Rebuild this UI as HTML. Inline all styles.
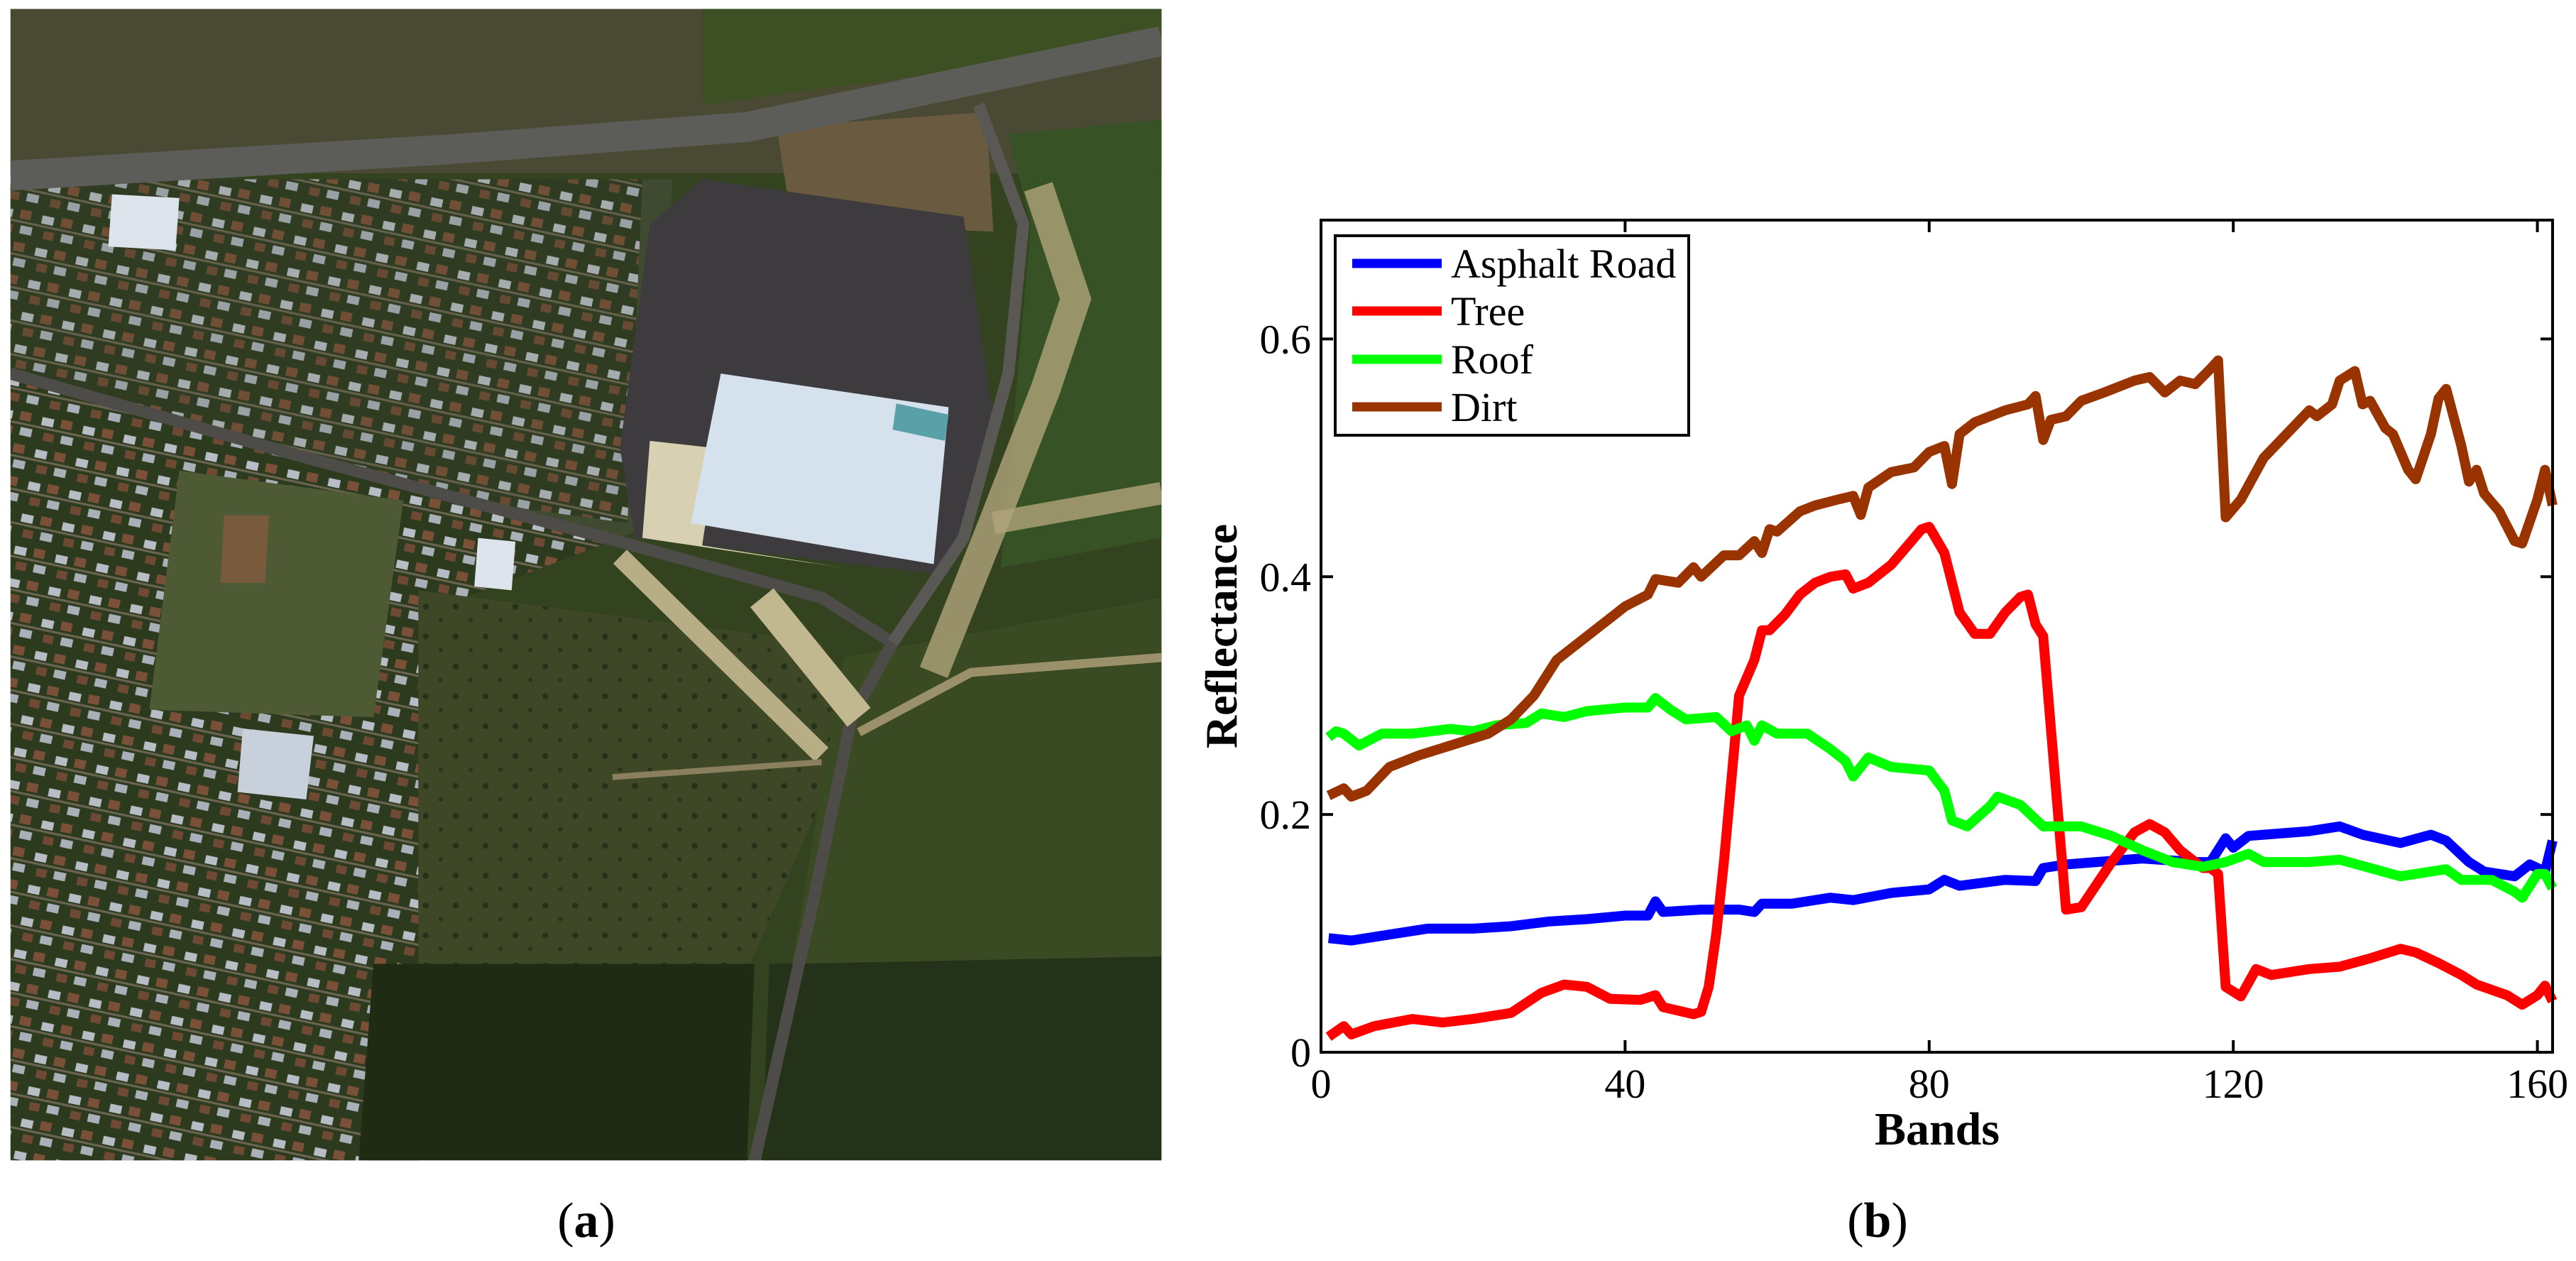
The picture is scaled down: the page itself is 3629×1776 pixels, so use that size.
<!DOCTYPE html>
<html><head><meta charset="utf-8"><style>
html,body{margin:0;padding:0;background:#fff;}
svg{display:block;font-family:"Liberation Serif",serif;}
</style></head><body>
<svg id="fig" width="3629" height="1776" viewBox="0 0 3629 1776" xmlns="http://www.w3.org/2000/svg">
<defs>
<clipPath id="mapclip"><rect x="14" y="12" width="1541" height="1541"/></clipPath>
<pattern id="houses" width="56" height="44" patternUnits="userSpaceOnUse" patternTransform="rotate(12)">
<rect width="56" height="44" fill="#2c3a1e"/>
<rect x="4" y="6" width="16" height="11" fill="#b8bcc4"/>
<rect x="30" y="4" width="15" height="12" fill="#7a5038"/>
<rect x="10" y="26" width="14" height="11" fill="#6e4a34"/>
<rect x="34" y="25" width="16" height="11" fill="#aab0b8"/>
<rect x="0" y="19" width="56" height="3" fill="#6a6450"/>
</pattern>
<pattern id="field" width="40" height="40" patternUnits="userSpaceOnUse">
<rect width="40" height="40" fill="#3e4826"/>
<circle cx="10" cy="12" r="4" fill="#26311a"/>
<circle cx="30" cy="30" r="3" fill="#2a3519"/>
</pattern>
</defs>

<!-- (a) satellite image approximation -->
<g transform="scale(1.0523)">
<g clip-path="url(#mapclip)">
<rect x="14" y="12" width="1541" height="1541" fill="#33421f"/>
<rect x="14" y="12" width="1541" height="220" fill="#4a4a34"/>
<polygon points="940,12 1555,12 1555,60 940,140" fill="#3c5024"/>
<polygon points="14,240 900,240 880,700 830,720 14,500" fill="#3f4a30"/>
<polygon points="14,500 830,720 620,800 560,1555 14,1555" fill="url(#houses)"/>
<polygon points="14,240 860,240 840,700 550,660 14,500" fill="url(#houses)" opacity="0.85"/>
<polygon points="240,630 540,670 500,960 200,950" fill="#4e5a34"/>
<polygon points="560,790 1100,860 1130,1000 1000,1300 560,1300" fill="url(#field)"/>
<polygon points="500,1290 1010,1290 1000,1555 480,1555" fill="#1f2b13"/>
<polygon points="1030,1290 1555,1280 1555,1555 1020,1555" fill="#24321a"/>
<polygon points="1130,880 1555,800 1555,1280 1060,1290" fill="#3a4a22"/>
<polygon points="1350,180 1555,160 1555,720 1340,760 1380,300" fill="#375224"/>
<polygon points="1040,170 1320,150 1330,310 1060,300" fill="#6a5a40"/>
<polygon points="940,240 1290,290 1330,560 1270,770 850,720 830,600 870,300" fill="#3e3b3f"/>
<polygon points="870,590 960,600 940,730 1130,760 860,720" fill="#d8d0b2"/>
<polygon points="965,500 1270,545 1250,755 925,700" fill="#d5e1ec"/>
<polygon points="1200,540 1270,555 1265,590 1195,575" fill="#5aa0a8"/>
<polygon points="300,690 360,690 355,780 295,780" fill="#7a5a3c"/>
<polygon points="325,975 420,985 410,1070 318,1060" fill="#c8d0dc"/>
<polygon points="640,720 690,725 685,790 635,785" fill="#dde4ec"/>
<polygon points="150,260 240,265 235,335 145,330" fill="#dde4ec"/>
<polyline points="14,235 600,200 1000,170 1555,55" fill="none" stroke="#5c5c58" stroke-width="40"/>
<polyline points="14,500 400,610 830,725 1100,800 1195,860 1140,960 1090,1200 1010,1555" fill="none" stroke="#4e4c48" stroke-width="16"/>
<polyline points="1310,140 1370,300 1350,500 1290,720 1195,860" fill="none" stroke="#5a5854" stroke-width="16"/>
<polyline points="830,745 1100,1010" fill="none" stroke="#b8ae86" stroke-width="26"/>
<polyline points="1020,800 1150,960" fill="none" stroke="#c2b890" stroke-width="40"/>
<polyline points="1390,250 1440,400 1400,520 1330,700 1250,900" fill="none" stroke="#b0a47a" stroke-width="40" opacity="0.8"/>
<polyline points="1330,700 1555,660" fill="none" stroke="#b0a47a" stroke-width="30" opacity="0.8"/>
<polyline points="820,1040 1100,1020" fill="none" stroke="#8a8060" stroke-width="8"/>
<polyline points="1150,980 1300,900 1555,880" fill="none" stroke="#9a906a" stroke-width="12"/>
</g>
</g>
<text x="826" y="1742" font-size="70" text-anchor="middle">(<tspan font-weight="bold">a</tspan>)</text>

<!-- (b) chart -->
<g id="chart"></g>
<text x="2645" y="1742" font-size="70" text-anchor="middle">(<tspan font-weight="bold">b</tspan>)</text>
</svg>
<script>
const xTicks = [0, 40, 80, 120, 160];
const yTicks = [0, 0.2, 0.4, 0.6];
const yTickLabels = ["0", "0.2", "0.4", "0.6"];
const seriesNames = ["Asphalt Road", "Tree", "Roof", "Dirt"];
const seriesColors = ["#0000ff", "#ff0000", "#00ff00", "#993300"];

const asphaltBands = [1,4,10,14,20,25,30,35,40,43,44,45,50,55,57,58,62,67,70,75,80,82,84,90,94,95,98,102,108,115,117,119,120,122,124,130,134,137,142,146,148,151,153,157,159,161,162];
const asphaltVals  = [0.096,0.094,0.1,0.104,0.104,0.106,0.11,0.112,0.115,0.115,0.127,0.118,0.12,0.12,0.118,0.125,0.125,0.13,0.128,0.134,0.137,0.145,0.14,0.145,0.144,0.155,0.158,0.16,0.163,0.16,0.16,0.18,0.172,0.182,0.183,0.186,0.19,0.183,0.176,0.183,0.178,0.16,0.152,0.148,0.158,0.152,0.178];

const treeBands = [1,3,4,7,12,16,20,25,29,32,35,38,42,44,45,49,50,51,52,53,54,55,57,58,59,61,63,65,67,69,70,72,75,77,79,80,82,84,86,88,90,92,93,94,95,98,100,104,107,109,111,113,116,117,118,119,121,123,125,130,134,138,142,144,147,150,152,156,158,160,161,162];
const treeVals  = [0.013,0.022,0.015,0.022,0.028,0.025,0.028,0.033,0.05,0.057,0.055,0.045,0.044,0.048,0.038,0.032,0.034,0.055,0.1,0.16,0.23,0.3,0.33,0.355,0.355,0.368,0.385,0.395,0.4,0.402,0.39,0.395,0.41,0.425,0.44,0.442,0.42,0.37,0.352,0.352,0.37,0.383,0.385,0.36,0.35,0.12,0.122,0.16,0.185,0.192,0.185,0.17,0.155,0.155,0.15,0.055,0.047,0.07,0.065,0.07,0.072,0.079,0.087,0.084,0.075,0.065,0.057,0.048,0.04,0.048,0.056,0.043];

const roofBands = [1,2,3,5,8,12,17,20,23,27,29,32,35,40,43,44,46,48,52,54,56,57,58,60,64,67,69,70,72,75,80,82,83,85,88,89,92,95,97,100,104,108,112,116,119,122,124,130,134,138,142,146,148,150,154,157,158,160,161,162];
const roofVals  = [0.265,0.27,0.268,0.258,0.268,0.268,0.272,0.27,0.275,0.277,0.285,0.282,0.287,0.29,0.29,0.298,0.288,0.28,0.282,0.27,0.275,0.262,0.275,0.268,0.268,0.255,0.245,0.232,0.248,0.24,0.237,0.22,0.195,0.19,0.207,0.215,0.208,0.19,0.19,0.19,0.182,0.17,0.16,0.156,0.16,0.167,0.16,0.16,0.162,0.155,0.148,0.152,0.154,0.145,0.145,0.135,0.13,0.15,0.15,0.138];

const dirtBands = [1,3,4,6,9,13,18,22,25,28,31,35,38,40,43,44,47,49,50,53,55,57,58,59,60,63,65,68,70,71,72,75,78,80,82,83,84,86,90,93,94,95,96,98,100,103,107,109,111,113,115,117,118,119,121,124,127,130,131,133,134,136,137,138,140,141,143,144,146,147,148,150,151,152,153,155,157,158,160,161,162];
const dirtVals  = [0.216,0.222,0.215,0.22,0.24,0.25,0.26,0.268,0.28,0.3,0.33,0.35,0.365,0.375,0.385,0.398,0.395,0.408,0.4,0.418,0.418,0.43,0.42,0.44,0.438,0.455,0.46,0.465,0.468,0.452,0.475,0.488,0.492,0.505,0.51,0.478,0.52,0.53,0.54,0.545,0.552,0.515,0.532,0.535,0.548,0.555,0.565,0.568,0.555,0.565,0.562,0.575,0.582,0.45,0.465,0.5,0.52,0.54,0.535,0.545,0.565,0.573,0.545,0.548,0.525,0.52,0.49,0.482,0.52,0.55,0.558,0.51,0.48,0.49,0.47,0.455,0.43,0.428,0.465,0.49,0.46];

const allBands = [asphaltBands, treeBands, roofBands, dirtBands];
const allVals = [asphaltVals, treeVals, roofVals, dirtVals];

const NS = "http://www.w3.org/2000/svg";
const L = 1861, R = 3596, T = 310, B = 1482;
const xMin = 0, xMax = 162, yMin = 0, yMax = 0.7;
function xs(v){ return L + (v - xMin) / (xMax - xMin) * (R - L); }
function ys(v){ return B - (v - yMin) / (yMax - yMin) * (B - T); }
const chart = document.getElementById("chart");
function mk(tag, attrs, parent){
  const e = document.createElementNS(NS, tag);
  for (const k in attrs) e.setAttribute(k, attrs[k]);
  (parent || chart).appendChild(e);
  return e;
}

// series
for (let s = 0; s < seriesNames.length; s++) {
  const pts = allBands[s].map((b, i) => xs(b).toFixed(1) + "," + ys(allVals[s][i]).toFixed(1)).join(" ");
  const pl = mk("polyline", {points: pts, fill: "none", stroke: seriesColors[s], "stroke-width": 14, "stroke-linejoin": "round", "stroke-linecap": "butt"});
  
  
}

// axes box
const box = mk("rect", {x: L, y: T, width: R - L, height: B - T, fill: "none", stroke: "#000", "stroke-width": 4});



// x ticks
xTicks.forEach(t => {
  const x = xs(t);
  const tk = mk("path", {d: `M${x},${B}v-17M${x},${T}v17`, stroke: "#000", "stroke-width": 4});
  
  
  const lb = mk("text", {x: x, y: 1546, "font-size": 58, "text-anchor": "middle"});
  lb.textContent = String(t);
  
  
});
// y ticks
yTicks.forEach((t, i) => {
  const y = ys(t);
  const tk = mk("path", {d: `M${L},${y}h17M${R},${y}h-17`, stroke: "#000", "stroke-width": 4});
  
  
  const lb = mk("text", {x: 1847, y: y + 20, "font-size": 58, "text-anchor": "end"});
  lb.textContent = yTickLabels[i];
  
  
});

// axis titles
const xt = mk("text", {x: 2729, y: 1612, "font-size": 66, "font-weight": "bold", "text-anchor": "middle"});
xt.textContent = "Bands";


const yt = mk("text", {x: 0, y: 0, "font-size": 64, "font-weight": "bold", "text-anchor": "middle", transform: "translate(1742,896) rotate(-90)"});
yt.textContent = "Reflectance";



// legend
const lg = mk("g", {});


const lr = mk("rect", {x: 1881, y: 332, width: 498, height: 281, fill: "#fff", stroke: "#000", "stroke-width": 4}, lg);


const rowY = [371, 438, 506, 573];
seriesNames.forEach((n, i) => {
  const ln = mk("line", {x1: 1905, x2: 2031, y1: rowY[i], y2: rowY[i], stroke: seriesColors[i], "stroke-width": 13}, lg);
  
  
  const tx = mk("text", {x: 2044, y: rowY[i] + 20, "font-size": 58}, lg);
  tx.textContent = n;
  
  
});
</script>
</body></html>
